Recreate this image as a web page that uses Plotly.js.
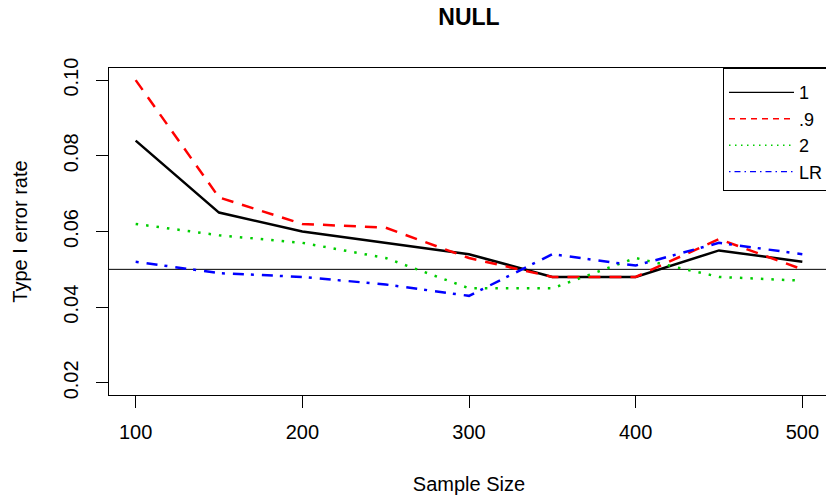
<!DOCTYPE html>
<html>
<head>
<meta charset="utf-8">
<script src="https://cdn.plot.ly/plotly-3.0.1.min.js"></script>
<style>
html, body { margin: 0; padding: 0; overflow: hidden; background: #fff; }
#chart { width: 830px; height: 499px; }
</style>
</head>
<body>
<div id="chart"></div>
<script>
const sampleSize = [100, 150, 200, 250, 300, 350, 400, 450, 500];
const series1   = [0.084, 0.065, 0.060, 0.057, 0.054, 0.048, 0.048, 0.055, 0.052];
const series09  = [0.100, 0.069, 0.062, 0.061, 0.053, 0.048, 0.048, 0.058, 0.050];
const series2   = [0.062, 0.059, 0.057, 0.053, 0.045, 0.045, 0.053, 0.048, 0.047];
const seriesLR  = [0.052, 0.049, 0.048, 0.046, 0.043, 0.054, 0.051, 0.057, 0.054];
const seriesNames = ['1', '.9', '2', 'LR'];
const nominalLevel = 0.05;
const xTicks = [100, 200, 300, 400, 500];
const yTicks = [0.02, 0.04, 0.06, 0.08, 0.10];
const yTickText = ['0.02', '0.04', '0.06', '0.08', '0.10'];

const FONT = 'Liberation Sans, Arial, Helvetica, sans-serif';

const colors = ['#000000', '#ff0000', '#00cd00', '#0000ff'];
const plotDash = ['solid', '12px,9px', '2.5px,8px', '3px,8px,11px,7px'];
const legendDash = ['solid', '6px,5px', '1.5px,4.5px', '1.5px,4px,6px,4px'];
const allSeries = [series1, series09, series2, seriesLR];

const traces = [];
allSeries.forEach((s, i) => {
  traces.push({x: sampleSize, y: s, name: seriesNames[i], mode: 'lines', showlegend: false,
               line: {color: colors[i], width: 2.5, dash: plotDash[i]}});
});
// legend entries (thin lines, as in the original legend)
allSeries.forEach((s, i) => {
  traces.push({x: [null], y: [null], name: seriesNames[i], mode: 'lines', showlegend: true,
               line: {color: colors[i], width: 1.4, dash: legendDash[i]}, hoverinfo: 'skip'});
});

const layout = {
  width: 830, height: 499, autosize: false,
  margin: {l: 109, r: 1, t: 68, b: 104, pad: 0},
  paper_bgcolor: '#ffffff', plot_bgcolor: '#ffffff',
  font: {family: FONT, size: 20, color: '#000000'},
  title: {text: '<b>NULL</b>', font: {family: FONT, size: 23, color: '#000'},
          x: 0.5, xref: 'paper', y: 1 - 17/499, yref: 'container', yanchor: 'middle'},
  showlegend: true,
  legend: {x: 1, y: 1, xanchor: 'right', yanchor: 'top', xref: 'paper', yref: 'paper',
           bgcolor: '#ffffff', bordercolor: '#000000', borderwidth: 1,
           itemwidth: 65,
           title: {text: '&nbsp;', font: {family: FONT, size: 4}},
           font: {family: FONT, size: 18, color: '#000'}},
  xaxis: {range: [84, 516], tickmode: 'array', tickvals: xTicks,
          ticks: 'outside', ticklen: 12, tickwidth: 1, tickcolor: '#000',
          showline: true, mirror: true, linecolor: '#000', linewidth: 1,
          showgrid: false, zeroline: false, ticklabelstandoff: 7,
          tickfont: {family: FONT, size: 20},
          title: {text: 'Sample Size', font: {family: FONT, size: 20}, standoff: 34}},
  yaxis: {range: [0.0168, 0.1032], tickmode: 'array', tickvals: yTicks, ticktext: yTickText,
          ticks: 'outside', ticklen: 12, tickwidth: 1, tickcolor: '#000', tickangle: -90,
          showline: true, mirror: true, linecolor: '#000', linewidth: 1,
          showgrid: false, zeroline: false, ticklabelstandoff: 10,
          tickfont: {family: FONT, size: 20},
          title: {text: 'Type I error rate', font: {family: FONT, size: 20}, standoff: 27}},
  shapes: [{type: 'line', xref: 'paper', x0: 0, x1: 1, yref: 'y', y0: nominalLevel, y1: nominalLevel,
            line: {color: '#000', width: 1}, layer: 'below'}]
};

Plotly.newPlot('chart', traces, layout, {displayModeBar: false, staticPlot: true});
</script>
</body>
</html>
